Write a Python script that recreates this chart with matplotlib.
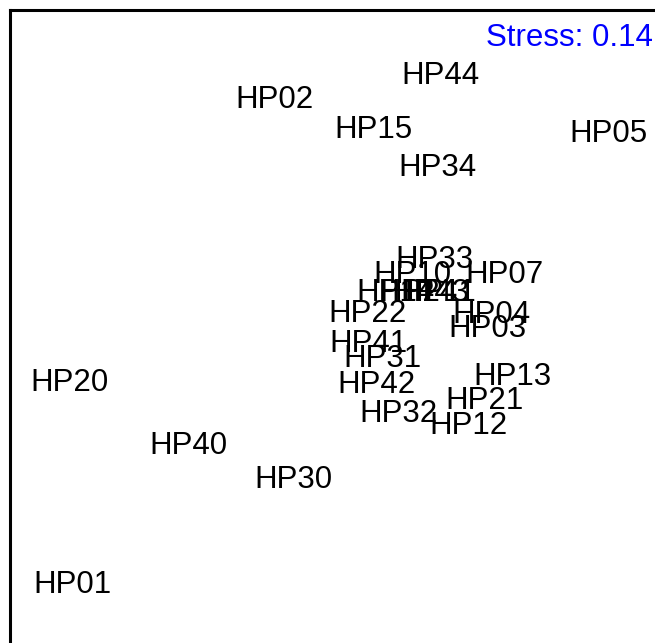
import matplotlib
matplotlib.use("Agg")
import matplotlib.pyplot as plt

# NMDS site scores
sites = ["HP44", "HP02", "HP15", "HP05", "HP34", "HP33", "HP10", "HP07",
         "HP14", "HP24", "HP43", "HP11", "HP22", "HP04", "HP03", "HP41",
         "HP31", "HP42", "HP13", "HP21", "HP32", "HP12", "HP20", "HP40",
         "HP30", "HP01"]
nmds1 = [0.30, -0.53, -0.035, 1.14, 0.285, 0.27, 0.16, 0.62,
         0.075, 0.19, 0.25, 0.29, -0.06, 0.555, 0.535, -0.06,
         0.01, -0.02, 0.66, 0.52, 0.09, 0.44, -1.555, -0.96,
         -0.435, -1.54]
nmds2 = [1.335, 1.215, 1.065, 1.045, 0.875, 0.415, 0.34, 0.34,
         0.25, 0.25, 0.25, 0.25, 0.145, 0.14, 0.07, -0.005,
         -0.08, -0.21, -0.17, -0.29, -0.355, -0.415, -0.20, -0.515,
         -0.685, -1.21]
stress = 0.14

fig = plt.figure(figsize=(6.55, 6.43), dpi=100)
ax = fig.add_axes([10 / 655, -37 / 643, 690 / 655, 670 / 643])

for name, x, y in zip(sites, nmds1, nmds2):
    ax.text(x, y, name, ha="center", va="center", fontsize=22.5,
            family=["Liberation Sans", "DejaVu Sans"], color="black")

ax.text(643 / 690, 1 - 28 / 670, "Stress: " + str(stress), transform=ax.transAxes,
        ha="right", va="center", fontsize=22.5, color="#0000ff",
        family=["Liberation Sans", "DejaVu Sans"])

ax.set_xlim(-1.85, 1.6)
ax.set_ylim(-1.685, 1.665)
ax.set_xticks([])
ax.set_yticks([])
for s in ax.spines.values():
    s.set_linewidth(2.2)

fig.savefig("out.png", dpi=100)
